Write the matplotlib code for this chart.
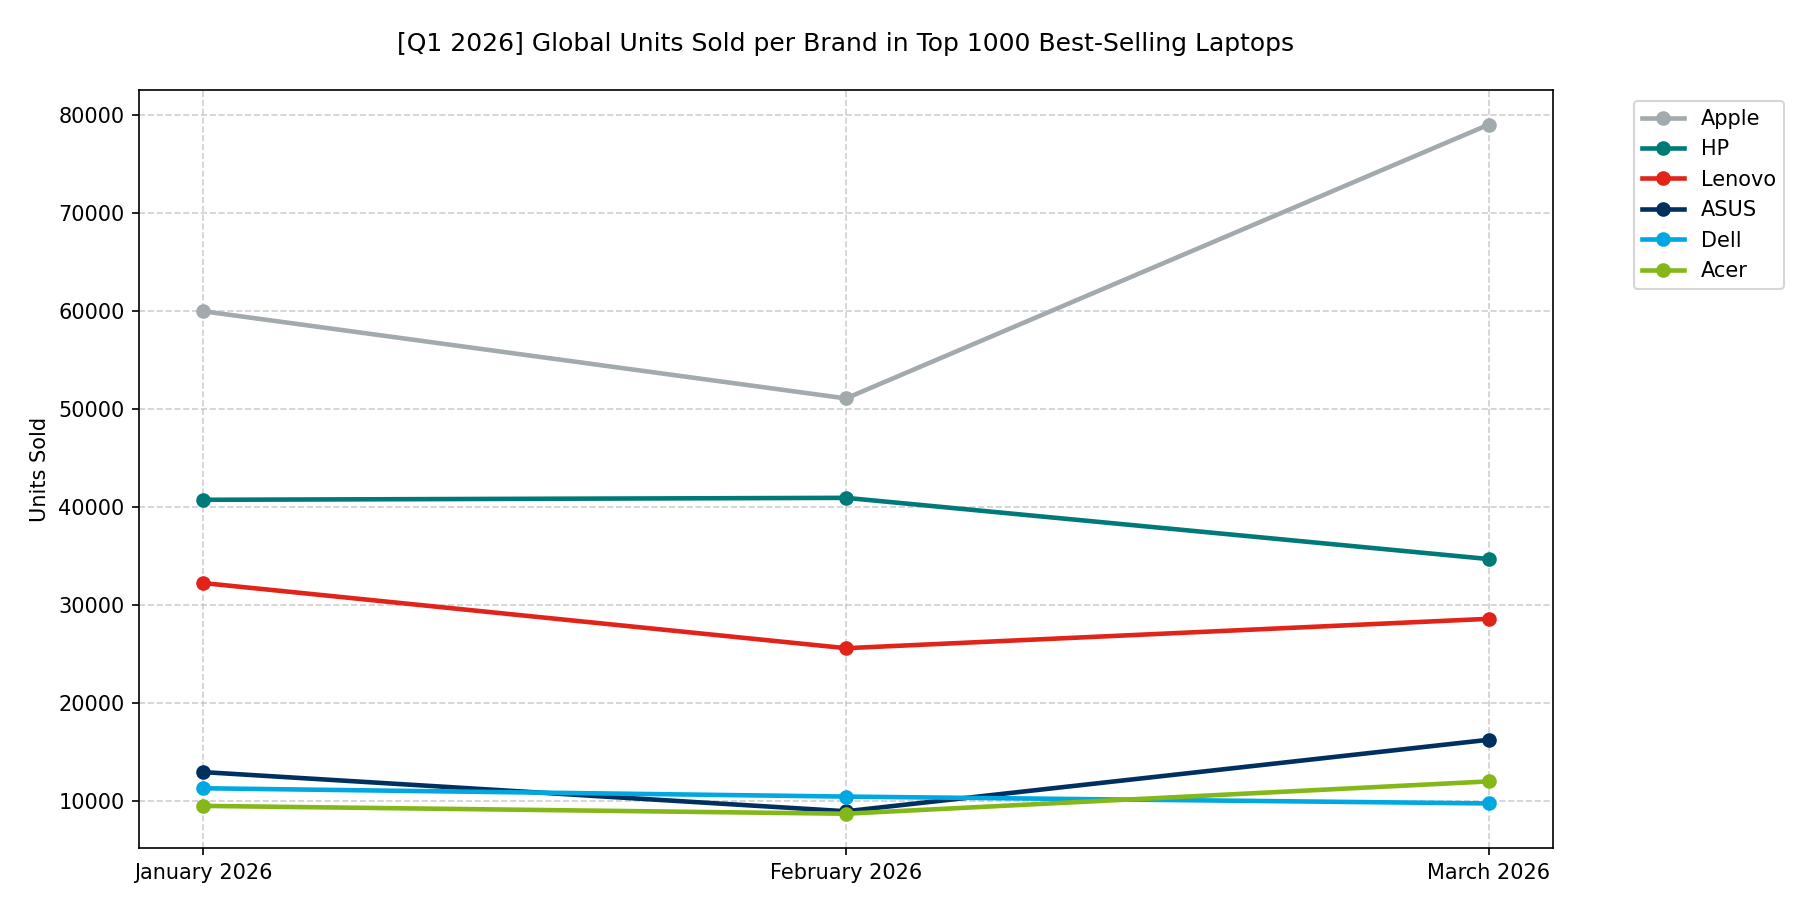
import matplotlib
matplotlib.use("Agg")
import matplotlib.pyplot as plt

months = ["January 2026", "February 2026", "March 2026"]
brands = ["Apple", "HP", "Lenovo", "ASUS", "Dell", "Acer"]
apple = [60000, 51100, 79050]
hp = [40750, 40950, 34700]
lenovo = [32250, 25600, 28600]
asus = [12950, 8950, 16250]
dell = [11300, 10450, 9750]
acer = [9500, 8700, 12000]
colors = ["#A2AAAD", "#007A78", "#E2231A", "#00305F", "#00A8E1", "#84B819"]
series = [apple, hp, lenovo, asus, dell, acer]

fig = plt.figure(figsize=(12.1, 6.0867), dpi=150)
ax = fig.add_axes([0.0766, 0.0710, 0.7790, 0.8302])
for name, vals, c in zip(brands, series, colors):
    ax.plot(months, vals, marker="o", linewidth=2.2, markersize=6, color=c, label=name)

ax.grid(True, linestyle="--", alpha=0.7, color="#bbbbbb")
ax.set_ylabel("Units Sold")
ax.set_title("[Q1 2026] Global Units Sold per Brand in Top 1000 Best-Selling Laptops", fontsize=12, pad=19)
ax.legend(loc="upper left", bbox_to_anchor=(1.05, 1))
fig.savefig("out.png", dpi=150)
